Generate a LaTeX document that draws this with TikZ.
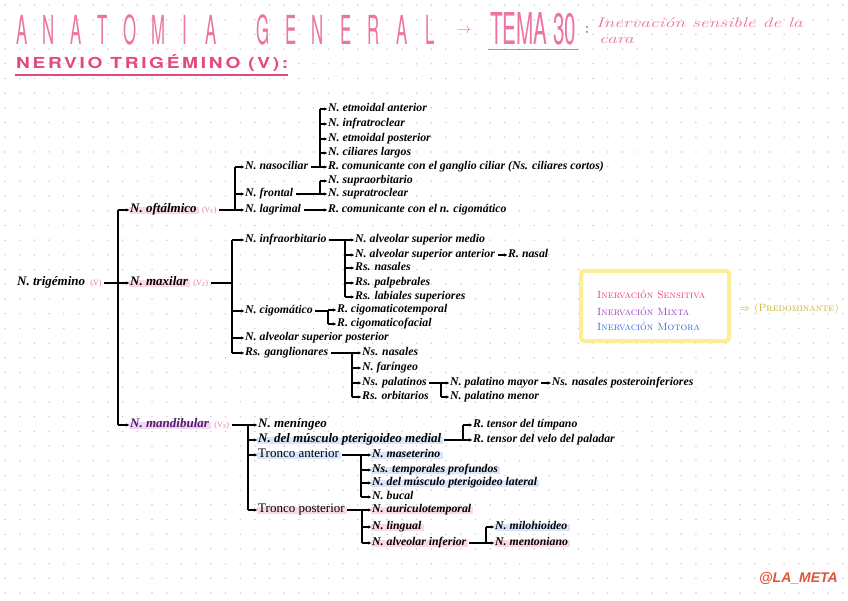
\documentclass[tikz,border=0pt]{standalone}
\usepackage{fontspec}
\newfontfamily\heros{TeX Gyre Heros}
\newfontfamily\herosls[LetterSpace=14]{TeX Gyre Heros}
\newfontfamily\wmfont{Liberation Sans}
\newfontfamily\handf{Liberation Serif}
\usetikzlibrary{arrows.meta,positioning,calc,backgrounds}
\definecolor{tpink}{RGB}{236,116,162}
\definecolor{npink}{RGB}{228,72,132}
\definecolor{vpink}{RGB}{236,120,150}
\definecolor{dotgray}{RGB}{205,205,205}
\definecolor{hlblue}{RGB}{216,229,250}
\definecolor{hlpink}{RGB}{252,216,227}
\definecolor{hlpurp}{RGB}{240,216,242}
\definecolor{mandcol}{RGB}{85,25,105}
\definecolor{sens}{RGB}{232,62,122}
\definecolor{mixta}{RGB}{150,62,190}
\definecolor{motora}{RGB}{52,102,230}
\definecolor{legy}{RGB}{252,238,150}
\definecolor{predc}{RGB}{200,176,40}
\definecolor{wmred}{RGB}{226,84,56}
\newcommand\hlmark[2]{\fill[#1] ($(#2.south west)+(-1.5,-0.5)$) rectangle ($(#2.north east)+(2,1.8)$);}
\tikzset{
  x=1pt, y=-1pt,
  hand/.style={anchor=west, inner sep=0pt, text height=7pt, text depth=1.8pt,
    font=\handf\fontsize{11.8}{13}\selectfont\bfseries\itshape},
  handL/.style={hand, font=\handf\fontsize{13}{14}\selectfont\bfseries\itshape},
  handU/.style={hand, font=\handf\fontsize{13}{14}\selectfont\upshape},
  vlab/.style={hand, text=vpink, font=\handf\fontsize{8}{8}\selectfont\upshape},
  arr/.style={-{Stealth[length=3.4pt,width=3.4pt]}, line width=1.1pt, shorten >=0.8pt},
  bar/.style={line width=1.4pt},
  conn/.style={line width=1.1pt, shorten <=2.5pt},
  titleL/.style={anchor=base, inner sep=0pt, text=tpink, font=\heros\fontsize{40}{40}\selectfont},
  legtxt/.style={anchor=west, inner sep=0pt, font=\fontsize{10.5}{11}\selectfont\scshape}
}
\begin{document}
\begin{tikzpicture}
\useasboundingbox (0,0) rectangle (848,601);
% ---------- title ----------
\foreach \ch/\xx in {A/22,N/49,A/76,T/103,O/130,M/158,I/185,A/211,G/263,E/291,N/318,E/346,R/374,A/402,L/430}
  \node[titleL] (t\xx) at (\xx,45) {\scalebox{0.42}[1]{\ch}};
\node[anchor=center, inner sep=0pt, text=tpink, font=\fontsize{15}{15}\selectfont] (tarr) at (464,31) {$\rightarrow$};
\node[anchor=base west, inner sep=0pt, text=tpink] (tema) at (490,45) {\resizebox{86pt}{32pt}{\heros TEMA 30}};
\draw[tpink, line width=1pt] (488,49.5) -- (578,49.5);
\node[anchor=center, inner sep=0pt, text=tpink, font=\fontsize{16}{16}\selectfont\bfseries] (tcol) at (587,30) {:};
\node[anchor=base west, inner sep=0pt, text=tpink] (inerv) at (596,28) {\scalebox{1.4}[1]{\fontsize{14}{14}\selectfont\itshape Inervación sensible de la}};
\node[anchor=base west, inner sep=0pt, text=tpink] (cara) at (599,44) {\scalebox{1.4}[1]{\fontsize{14}{14}\selectfont\itshape cara}};
\node[anchor=base west, inner sep=0pt, text=npink] (nerv) at (16,69) {\resizebox{272pt}{14pt}{\herosls\bfseries NERVIO TRIGÉMINO (V):}};
\draw[npink, line width=1.2pt] (15,75) -- (288,75);
% ---------- bar positions ----------
\coordinate (bT) at (118,0);
\coordinate (bO) at (235,0);
\coordinate (bN) at (320,0);
\coordinate (bF) at (320,0);
\coordinate (bM) at (232,0);
\coordinate (bI) at (345,0);
\coordinate (bC) at (328,0);
\coordinate (bG) at (352,0);
\coordinate (bP) at (441,0);
\coordinate (bD) at (248,0);
\coordinate (bMe) at (463,0);
\coordinate (bA) at (361,0);
\coordinate (bPo) at (362,0);
\coordinate (bAI) at (486,0);
% ---------- nodes ----------
\node[handL] (trig) at (17,283) {N. trigémino};
\node[vlab, right=5pt of trig] (trigv) {(V)};
\node[handL] (oft) at (130,210) {N. oftálmico};
\node[vlab, right=5pt of oft] (oftv) {(V\textsubscript{1})};
\node[handL] (maxi) at (130,283) {N. maxilar};
\node[vlab, right=5pt of maxi] (maxiv) {(V\textsubscript{2})};
\node[handL, text=mandcol] (mand) at (130,425) {N. mandibular};
\node[vlab, right=5pt of mand] (mandv) {(V\textsubscript{3})};
% oftalmico
\node[hand] (naso) at (245,167) {N. nasociliar};
\node[hand] (front) at (245,194) {N. frontal};
\node[hand] (lagr) at (245,210) {N. lagrimal};
\node[hand] (ea) at (328,109) {N. etmoidal anterior};
\node[hand] (it) at (328,124) {N. infratroclear};
\node[hand] (ep) at (328,139) {N. etmoidal posterior};
\node[hand] (cl) at (328,153) {N. ciliares largos};
\node[hand] (rcg) at (328,167) {R. comunicante con el ganglio ciliar (Ns. ciliares cortos)};
\node[hand] (so) at (328,181) {N. supraorbitario};
\node[hand] (st) at (328,194) {N. supratroclear};
\node[hand] (rcz) at (328,210) {R. comunicante con el n. cigomático};
% maxilar
\node[hand] (infra) at (245,240) {N. infraorbitario};
\node[hand] (cigo) at (245,311) {N. cigomático};
\node[hand] (asp) at (245,338) {N. alveolar superior posterior};
\node[hand] (gang) at (245,353) {Rs. ganglionares};
\node[hand] (asm) at (355,240) {N. alveolar superior medio};
\node[hand] (asa) at (355,255) {N. alveolar superior anterior};
\node[hand, right=13pt of asa] (rn) {R. nasal};
\node[hand] (rsn) at (355,268) {Rs. nasales};
\node[hand] (rsp) at (355,283) {Rs. palpebrales};
\node[hand] (rls) at (355,297) {Rs. labiales superiores};
\node[hand] (rct) at (337,310) {R. cigomaticotemporal};
\node[hand] (rcf) at (337,324) {R. cigomaticofacial};
\node[hand] (nsn) at (362,353) {Ns. nasales};
\node[hand] (nf) at (362,368) {N. faríngeo};
\node[hand] (nsp) at (362,383) {Ns. palatinos};
\node[hand] (rso) at (362,397) {Rs. orbitarios};
\node[hand] (npm) at (450,383) {N. palatino mayor};
\node[hand, right=13pt of npm] (nnp) {Ns. nasales posteroinferiores};
\node[hand] (npme) at (450,397) {N. palatino menor};
% mandibular
\node[handL] (men) at (258,425) {N. meníngeo};
\node[handL] (mpm) at (258,440) {N. del músculo pterigoideo medial};
\node[handU] (ta) at (258,455) {Tronco anterior};
\node[handU] (tp) at (258,510) {Tronco posterior};
\node[hand] (rtt) at (473,425) {R. tensor del tímpano};
\node[hand] (rtv) at (473,440) {R. tensor del velo del paladar};
\node[hand] (mas) at (372,455) {N. maseterino};
\node[hand] (ntp) at (372,470) {Ns. temporales profundos};
\node[hand] (npl) at (372,483) {N. del músculo pterigoideo lateral};
\node[hand] (nb) at (372,497) {N. bucal};
\node[hand] (nat) at (372,510) {N. auriculotemporal};
\node[hand] (nl) at (372,527) {N. lingual};
\node[hand] (nai) at (372,543) {N. alveolar inferior};
\node[hand] (nmh) at (495,527) {N. milohioideo};
\node[hand] (nme) at (495,543) {N. mentoniano};
% ---------- connectors ----------
% trunk
\draw[bar] (oft.west -| bT) -- (mand.west -| bT);
\draw[arr] (oft.west -| bT) -- (oft.west);
\draw[arr, shorten <=2.5pt] (trigv.east) -- (maxi.west);
\draw[arr] (mand.west -| bT) -- (mand.west);
% oftalmico
\draw[conn] (oftv.east) -- (oftv.east -| bO);
\draw[bar] (naso.west -| bO) -- (lagr.west -| bO);
\foreach \c in {naso,front,lagr} \draw[arr] (\c.west -| bO) -- (\c.west);
\draw[conn] (naso.east) -- (naso.east -| bN);
\draw[bar] (ea.west -| bN) -- (rcg.west -| bN);
\foreach \c in {ea,it,ep,cl,rcg} \draw[arr] (\c.west -| bN) -- (\c.west);
\draw[conn] (front.east) -- (front.east -| bF);
\draw[bar] (so.west -| bF) -- (st.west -| bF);
\foreach \c in {so,st} \draw[arr] (\c.west -| bF) -- (\c.west);
\draw[arr, shorten <=2.5pt] (lagr.east) -- (rcz.west);
% maxilar
\draw[conn] (maxiv.east) -- (maxiv.east -| bM);
\draw[bar] (infra.west -| bM) -- (gang.west -| bM);
\foreach \c in {infra,cigo,asp,gang} \draw[arr] (\c.west -| bM) -- (\c.west);
\draw[conn] (infra.east) -- (infra.east -| bI);
\draw[bar] (asm.west -| bI) -- (rls.west -| bI);
\foreach \c in {asm,asa,rsn,rsp,rls} \draw[arr] (\c.west -| bI) -- (\c.west);
\draw[arr, shorten <=2.5pt] (asa.east) -- (rn.west);
\draw[conn] (cigo.east) -- (cigo.east -| bC);
\draw[bar] (rct.west -| bC) -- (rcf.west -| bC);
\foreach \c in {rct,rcf} \draw[arr] (\c.west -| bC) -- (\c.west);
\draw[conn] (gang.east) -- (gang.east -| bG);
\draw[bar] (nsn.west -| bG) -- (rso.west -| bG);
\foreach \c in {nsn,nf,nsp,rso} \draw[arr] (\c.west -| bG) -- (\c.west);
\draw[conn] (nsp.east) -- (nsp.east -| bP);
\draw[bar] (npm.west -| bP) -- (npme.west -| bP);
\foreach \c in {npm,npme} \draw[arr] (\c.west -| bP) -- (\c.west);
\draw[arr, shorten <=2.5pt] (npm.east) -- (nnp.west);
% mandibular
\draw[conn] (mandv.east) -- (mandv.east -| bD);
\draw[bar] (men.west -| bD) -- (tp.west -| bD);
\foreach \c in {men,mpm,ta,tp} \draw[arr] (\c.west -| bD) -- (\c.west);
\draw[conn] (mpm.east) -- (mpm.east -| bMe);
\draw[bar] (rtt.west -| bMe) -- (rtv.west -| bMe);
\foreach \c in {rtt,rtv} \draw[arr] (\c.west -| bMe) -- (\c.west);
\draw[conn] (ta.east) -- (ta.east -| bA);
\draw[bar] (mas.west -| bA) -- (nb.west -| bA);
\foreach \c in {mas,ntp,npl,nb} \draw[arr] (\c.west -| bA) -- (\c.west);
\draw[conn] (tp.east) -- (tp.east -| bPo);
\draw[bar] (nat.west -| bPo) -- (nai.west -| bPo);
\foreach \c in {nat,nl,nai} \draw[arr] (\c.west -| bPo) -- (\c.west);
\draw[conn] (nai.east) -- (nai.east -| bAI);
\draw[bar] (nmh.west -| bAI) -- (nme.west -| bAI);
\foreach \c in {nmh,nme} \draw[arr] (\c.west -| bAI) -- (\c.west);
% ---------- legend ----------
\node[draw=legy, line width=4pt, fill=white, rounded corners=3pt, minimum width=148pt, minimum height=70pt, inner sep=0pt] (leg) at (655,306) {};
\node[legtxt, text=sens] (ls) at (597,295) {Inervación Sensitiva};
\node[legtxt, text=mixta] (lm) at (597,311) {Inervación Mixta};
\node[legtxt, text=motora] (lmo) at (597,326) {Inervación Motora};
\node[legtxt, text=predc] (pred) at (739,309) {$\Rightarrow$ (Predominante)};
% ---------- watermark ----------
\node[anchor=east, inner sep=0pt, text=wmred, font=\wmfont\bfseries\itshape\fontsize{14}{14}\selectfont] (wm) at (838,578) {@LA\_META};
% ---------- background ----------
\begin{scope}[on background layer]
  \fill[white] (0,0) rectangle (848,601);
  \foreach \i in {0,...,57} \foreach \j in {0,...,40}
    \fill[dotgray] (5+14.7*\i, 5+14.7*\j) circle (0.85);
  \hlmark{hlpink}{oft}
  \hlmark{hlpink}{maxi}
  \hlmark{hlpurp}{mand}
  \hlmark{hlblue}{mpm}
  \hlmark{hlblue}{ta}
  \hlmark{hlblue}{mas}
  \hlmark{hlblue}{ntp}
  \hlmark{hlblue}{npl}
  \hlmark{hlblue}{nmh}
  \hlmark{hlpink}{tp}
  \hlmark{hlpink}{nat}
  \hlmark{hlpink}{nl}
  \hlmark{hlpink}{nai}
  \hlmark{hlpink}{nme}
\end{scope}
\end{tikzpicture}
\end{document}
